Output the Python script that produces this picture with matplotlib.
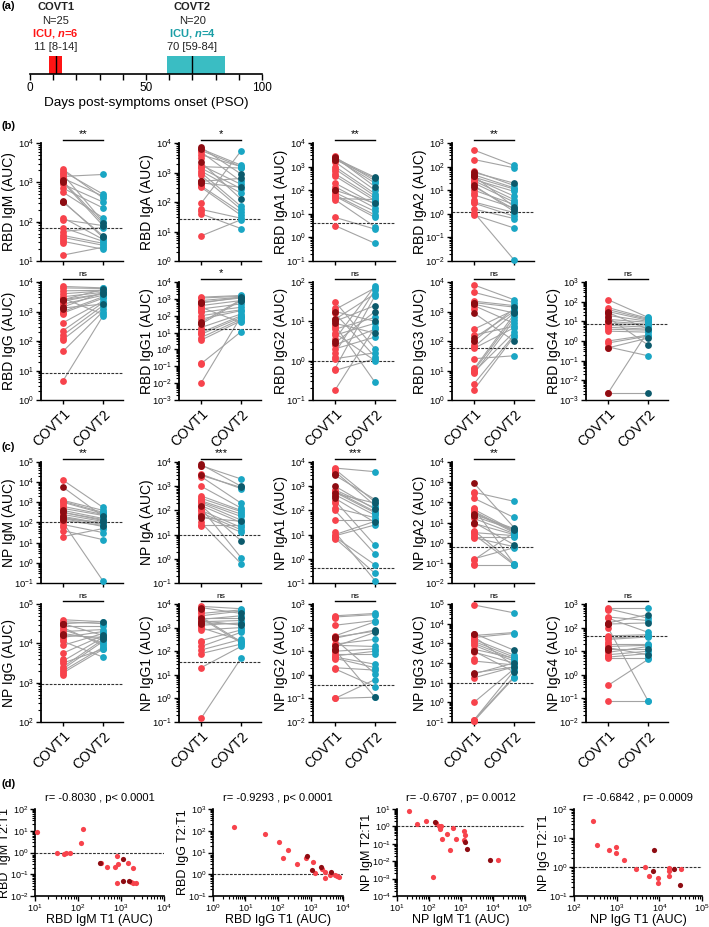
import matplotlib
matplotlib.use("Agg")
import matplotlib.pyplot as plt
import matplotlib.ticker as mticker
import numpy as np

plt.rcParams['font.family'] = 'Liberation Sans'
plt.rcParams['mathtext.fontset'] = 'custom'
plt.rcParams['mathtext.rm'] = 'Liberation Sans'
plt.rcParams['mathtext.it'] = 'Liberation Sans:italic:bold'
plt.rcParams['mathtext.bf'] = 'Liberation Sans:bold'

RED = '#f7434c'
DRED = '#8e0c12'
TEAL = '#1aa6c4'
DTEAL = '#0c5a6c'
GREY = '#a3a3a3'

# ---- panel (a): sampling windows (days PSO) ----
covt_names = ['COVT1', 'COVT2']
covt_n = ['N=25', 'N=20']
covt_icu = [r'ICU, $\it{n}$=6', r'ICU, $\it{n}$=4']
covt_median = [11, 70]
covt_lo = [8, 59]
covt_hi = [14, 84]

# ---- paired data, log10 AUC ----
# patient order: 0-3 ICU (paired), 4-19 non-ICU (paired), 20-21 ICU (T1 only), 22-24 non-ICU (T1 only)
ICU_T1 = [0, 1, 2, 3, 20, 21]
ICU_T2 = [0, 1, 2, 3]

rbd_igm_t1 = [3.03, 2.5, 2.52, 3.0, 3.33, 3.28, 3.2, 3.15, 3.1, 2.95, 2.85, 2.75, 2.1, 2.05, 1.85, 1.75, 1.65, 1.6, 1.5, 1.15, 3.05, 2.5, 1.55, 1.45, 3.25]
rbd_igm_t2 = [1.96, 1.64, 1.6, 1.9, 2.6, 2.7, 2.0, 3.2, 2.65, 2.5, 2.35, 2.1, 1.55, 1.9, 1.5, 1.85, 1.45, 1.4, 1.3, 1.35]
rbd_iga_t1 = [3.85, 3.35, 2.7, 2.65, 3.8, 3.75, 3.7, 3.6, 3.25, 3.2, 3.15, 3.05, 3.0, 2.9, 2.55, 2.5, 1.95, 1.75, 1.6, 0.85, 3.8, 2.7, 3.5, 2.6, 1.7]
rbd_iga_t2 = [2.95, 2.1, 2.8, 2.5, 3.25, 3.2, 2.7, 3.2, 2.6, 3.15, 2.45, 2.3, 1.85, 1.75, 1.65, 1.55, 3.73, 1.45, 1.1, 1.4]
rbd_iga1_t1 = [3.35, 3.3, 2.0, 3.4, 3.4, 3.35, 3.2, 3.0, 2.9, 2.7, 2.6, 2.3, 2.15, 1.9, 1.8, 1.75, 1.6, 0.85, 0.5, 1.65, 3.3, 2.0, 3.45, 2.8, 1.7]
rbd_iga1_t2 = [2.55, 2.5, 1.45, 2.15, 2.4, 2.3, 2.0, 1.85, 1.75, 1.65, 1.55, 1.4, 1.25, 1.1, 0.95, 0.85, 0.45, 0.35, -0.25, 1.6]
rbd_iga2_t1 = [1.75, 1.6, 1.2, 1.15, 2.7, 2.3, 1.8, 1.65, 1.55, 1.5, 1.4, 1.3, 1.0, 0.8, 0.5, 0.45, 0.2, 0.05, -0.05, 1.45, 1.7, 1.6, 1.35, 0.9, 0.6]
rbd_iga2_t2 = [1.3, 0.3, 0.1, 0.2, 2.05, 1.95, 1.2, 1.1, 1.05, 0.75, 0.6, 0.5, 0.4, 0.25, 0.05, -0.1, -0.2, -1.95, -0.6, 0.95]
rbd_igg_t1 = [3.4, 3.15, 3.12, 3.4, 3.85, 3.8, 3.7, 3.6, 3.5, 3.35, 3.25, 3.0, 2.95, 2.62, 2.35, 2.2, 2.05, 1.65, 0.65, 3.45, 3.38, 3.1, 3.3, 2.9, 2.1]
rbd_igg_t2 = [3.75, 3.65, 3.25, 3.6, 3.8, 3.78, 3.72, 3.7, 3.65, 3.6, 3.55, 3.5, 3.45, 3.35, 3.3, 3.2, 3.1, 3.0, 2.85, 2.9]
rbd_igg1_t1 = [2.8, 1.6, 1.5, 2.75, 3.1, 3.05, 2.9, 2.6, 2.4, 2.2, 2.0, 1.8, 1.3, 1.0, 0.9, 0.7, 0.55, -0.85, -2.0, 2.5, 2.75, 1.55, 2.3, 1.1, -0.8]
rbd_igg1_t2 = [3.05, 2.95, 2.9, 3.1, 3.2, 3.15, 3.1, 2.9, 2.7, 2.5, 2.35, 2.3, 2.1, 2.0, 1.9, 1.8, 1.7, 1.05, 1.95, 1.6]
rbd_igg2_t1 = [1.0, 0.45, 0.95, 1.25, 1.5, 1.3, 1.2, 1.05, 0.9, 0.8, 0.65, 0.55, 0.4, 0.3, 0.2, 0.05, -0.2, -0.25, -0.75, 0.7, 1.05, 0.5, 1.35, 0.85, 0.1]
rbd_igg2_t2 = [1.4, 1.25, 0.7, 1.0, 0.3, 1.85, 0.1, 1.7, -0.55, 1.1, 0.95, 1.9, 0.8, 0.6, 1.8, 0.2, 1.65, 0.05, 0.85, 0.0]
rbd_igg3_t1 = [3.3, 2.95, 2.1, 3.25, 3.9, 3.65, 3.35, 3.2, 2.4, 2.2, 1.8, 1.75, 1.4, 1.05, 1.0, 0.95, 0.9, 0.55, 0.35, 2.0, 3.3, 2.0, 3.1, 1.85, 1.1]
rbd_igg3_t2 = [3.15, 2.0, 3.0, 2.95, 3.4, 3.3, 3.2, 2.6, 3.05, 2.5, 2.95, 2.45, 1.5, 2.9, 2.8, 2.3, 2.7, 2.2, 2.15, 3.1]
rbd_igg4_t1 = [1.45, -0.35, 1.2, -2.65, 2.1, 1.7, 1.6, 1.5, 1.3, 1.1, 1.0, 0.9, 0.8, 0.7, 0.6, 0.5, 0.0, -0.1, -0.3, -2.65, 1.4, 1.0, 0.75, 1.55, -0.35]
rbd_igg4_t2 = [0.6, 0.15, -0.2, -2.65, 1.2, 1.15, 1.1, 1.05, 1.0, 0.95, 0.85, 0.8, 0.7, 0.6, 0.55, 0.45, 0.3, 0.25, -0.75, 0.5]

np_igm_t1 = [3.75, 2.1, 2.2, 2.5, 4.1, 3.1, 3.05, 3.0, 2.8, 2.7, 2.6, 2.5, 2.4, 2.3, 2.25, 2.2, 2.0, 1.9, 1.6, 1.3, 2.6, 2.3, 2.9, 1.8, 2.15]
np_igm_t2 = [2.3, 1.85, 2.0, 2.1, 2.75, 2.6, 2.5, 2.45, 2.4, 2.35, 2.2, 2.15, 2.05, 1.95, 1.9, 1.8, -0.9, 1.5, 1.15, 1.7]
np_iga_t1 = [3.9, 3.45, 1.7, 2.2, 3.85, 3.5, 3.4, 3.0, 2.6, 2.5, 2.4, 2.35, 2.3, 2.2, 2.1, 2.0, 1.9, 1.8, 1.5, 1.4, 3.85, 1.75, 2.45, 2.0, 1.35]
np_iga_t2 = [3.0, 2.95, 1.55, 0.75, 3.3, 2.9, 2.3, 2.1, 2.0, 1.95, 1.85, 1.75, 1.6, 1.5, 0.05, 1.3, 1.2, 1.1, -0.2, 1.4]
np_iga1_t1 = [3.45, 3.0, 2.5, 2.7, 3.75, 3.7, 3.6, 2.85, 2.8, 2.75, 2.65, 2.4, 2.1, 2.0, 1.6, 1.0, 0.95, 0.9, 0.85, 1.1, 3.5, 2.6, 3.65, 2.3, 0.8]
np_iga1_t2 = [2.45, 2.05, 1.5, 2.3, 3.6, 2.35, 2.2, 2.1, 1.95, 1.9, 1.8, 0.55, 1.7, 0.2, 1.6, 1.55, 1.4, -0.25, -0.6, -0.9]
np_iga2_t1 = [2.95, 1.4, 1.0, 1.3, 2.5, 2.2, 1.65, 1.55, 1.5, 1.2, 0.95, 0.6, 0.5, 0.4, 0.3, 0.25, -0.8, -1.1, -0.85, 1.7, 1.35, 1.0, 2.45, 0.55, -1.05]
np_iga2_t2 = [0.75, 0.7, -0.1, 0.65, 2.05, 1.25, 0.6, 0.55, 0.5, 0.45, 0.4, -1.05, 0.35, -1.1, 0.3, -0.2, -0.25, -1.1, 0.5, -1.05]
np_igg_t1 = [4.5, 4.2, 4.25, 4.5, 4.6, 4.55, 4.45, 4.35, 4.3, 4.15, 4.05, 3.95, 3.75, 3.55, 3.5, 3.4, 3.35, 3.3, 3.25, 4.4, 4.2, 4.5, 4.1, 3.6, 3.2]
np_igg_t2 = [4.55, 4.15, 4.1, 4.2, 4.55, 4.5, 4.45, 4.0, 4.35, 4.3, 3.65, 4.25, 4.2, 4.15, 3.85, 4.1, 4.05, 3.9, 3.85, 3.95]
np_igg1_t1 = [3.85, 3.2, 3.3, 3.4, 3.9, 3.6, 3.5, 3.45, 3.35, 3.25, 3.1, 3.0, 2.9, 2.45, 2.2, 2.05, 1.9, 1.3, -0.85, 3.4, 3.8, 3.15, 3.7, 2.4, 3.05]
np_igg1_t2 = [3.6, 3.15, 3.1, 3.4, 3.8, 3.75, 3.7, 2.4, 3.5, 3.3, 3.2, 2.45, 3.0, 2.9, 2.8, 2.5, 2.3, 2.2, 1.7, 2.35]
np_igg2_t1 = [1.6, 1.2, 1.05, 1.55, 2.5, 2.45, 2.1, 1.65, 1.3, 1.25, 1.0, 0.8, 0.75, 0.7, 0.3, 0.25, -1.0, -1.0, 1.5, 0.9, 1.6, 1.1, 2.4, 0.65, 1.0]
np_igg2_t2 = [1.85, 1.8, -0.95, 1.9, 2.6, 2.55, 2.3, 2.25, 1.5, 1.2, 1.1, 1.0, 0.45, 0.3, 0.2, -0.5, -0.95, -0.2, 0.05, 0.9]
np_igg3_t1 = [3.5, 2.6, 1.5, 1.45, 4.95, 3.4, 3.3, 3.2, 3.1, 3.0, 2.9, 2.55, 2.1, 1.25, 0.0, -0.9, -0.95, -0.9, 2.7, 3.35, 3.5, 2.6, 3.15, 2.2, -0.95]
np_igg3_t2 = [2.65, 1.55, 1.8, 2.0, 4.55, 3.55, 3.5, 2.4, 2.3, 2.2, 2.1, 2.0, 1.9, 1.8, 1.7, 1.6, 1.25, 1.3, 2.25, 1.85]
np_igg4_t1 = [2.2, 2.15, 1.1, 1.15, 2.85, 2.8, 2.45, 2.4, 1.65, 1.55, 1.5, 1.3, 1.2, 0.95, 0.85, 0.75, 0.7, -0.45, -1.1, 2.0, 2.15, 1.05, 2.75, 1.4, 0.8]
np_igg4_t2 = [2.55, 2.2, 1.1, 0.85, 2.85, 2.4, 2.3, 1.8, 1.7, 1.65, 1.6, 1.3, 1.25, 1.2, 1.0, 0.9, 0.7, 0.65, -1.1, -1.1]

b_labels = ['RBD IgM (AUC)', 'RBD IgA (AUC)', 'RBD IgA1 (AUC)', 'RBD IgA2 (AUC)',
            'RBD IgG (AUC)', 'RBD IgG1 (AUC)', 'RBD IgG2 (AUC)', 'RBD IgG3 (AUC)', 'RBD IgG4 (AUC)']
b_ylim = [(1, 4), (0, 4), (-1, 4), (-2, 3), (0, 4), (-3, 4), (-1, 2), (0, 4), (-3, 3)]
b_cutoff = [70, 26, 4, 1.2, 8.5, 16, 1.0, 56, 7.4]
b_sig = ['**', '*', '**', '**', 'ns', '*', 'ns', 'ns', 'ns']

c_labels = ['NP IgM (AUC)', 'NP IgA (AUC)', 'NP IgA1 (AUC)', 'NP IgA2 (AUC)',
            'NP IgG (AUC)', 'NP IgG1 (AUC)', 'NP IgG2 (AUC)', 'NP IgG3 (AUC)', 'NP IgG4 (AUC)']
c_ylim = [(-1, 5), (-1, 4), (-1, 4), (-2, 4), (2, 5), (-1, 4), (-2, 3), (-1, 5), (-2, 3)]
c_cutoff = [100, 10, 0.4, 0.6, 900, 35, 0.36, 10, 44]
c_sig = ['**', '***', '***', '**', 'ns', 'ns', 'ns', 'ns', 'ns']

b_t1 = [rbd_igm_t1, rbd_iga_t1, rbd_iga1_t1, rbd_iga2_t1, rbd_igg_t1, rbd_igg1_t1, rbd_igg2_t1, rbd_igg3_t1, rbd_igg4_t1]
b_t2 = [rbd_igm_t2, rbd_iga_t2, rbd_iga1_t2, rbd_iga2_t2, rbd_igg_t2, rbd_igg1_t2, rbd_igg2_t2, rbd_igg3_t2, rbd_igg4_t2]
c_t1 = [np_igm_t1, np_iga_t1, np_iga1_t1, np_iga2_t1, np_igg_t1, np_igg1_t1, np_igg2_t1, np_igg3_t1, np_igg4_t1]
c_t2 = [np_igm_t2, np_iga_t2, np_iga1_t2, np_iga2_t2, np_igg_t2, np_igg1_t2, np_igg2_t2, np_igg3_t2, np_igg4_t2]

# ---- panel (d): T1 vs T2:T1 ratio, log10 ----
d1_x = [1.05, 1.5, 1.67, 1.72, 1.81, 2.06, 2.12, 2.51, 2.53, 2.67, 2.86, 2.91, 2.94, 2.91, 3.04, 3.04, 3.17, 3.19, 3.23, 3.27, 3.29, 3.36]
d1_y = [0.94, 0.0, -0.09, 0.0, 0.0, 0.45, 1.1, -0.48, -0.5, -0.65, -0.65, -0.15, -0.53, -1.39, -0.3, -1.29, -0.5, -1.3, -1.36, -0.73, -1.42, -1.42]
d1_icu = [7, 14, 15, 17]
d2_x = [0.64, 1.59, 2.03, 2.31, 2.15, 2.59, 2.9, 2.87, 3.08, 3.06, 3.13, 3.31, 3.36, 3.44, 3.44, 3.64, 3.59, 3.74, 3.82, 3.88]
d2_y = [2.18, 1.83, 1.5, 1.12, 0.76, 0.47, 0.85, 0.73, 0.55, 0.21, 0.05, 0.32, 0.24, 0.09, -0.15, 0.09, -0.03, -0.02, -0.08, -0.12]
d2_icu = [6, 9, 11, 15]
d3_x = [1.36, 1.62, 1.91, 2.19, 2.23, 2.3, 2.37, 2.33, 2.4, 2.56, 2.66, 2.74, 2.85, 3.08, 3.13, 3.08, 3.13, 3.2, 2.12, 3.91, 4.17]
d3_y = [0.87, 0.11, 0.3, 0.24, 0.17, 0.02, 0.05, -0.14, -0.74, -0.46, -1.35, -0.08, -0.7, -0.27, -0.52, -0.78, -0.9, -1.31, -2.9, -1.92, -1.92]
d3_icu = [3, 16, 17, 19]
d4_x = [2.45, 2.55, 2.82, 2.98, 2.99, 3.18, 3.46, 3.67, 3.75, 3.88, 3.86, 3.96, 3.96, 4.22, 4.22, 4.22, 4.35, 4.51, 4.49]
d4_y = [1.57, 0.77, 0.58, 0.7, 0.47, 0.24, -0.06, -0.01, -0.3, 0.59, -0.14, -0.38, -0.55, -0.02, -0.13, -0.3, -0.07, -0.07, -0.61]
d4_icu = [9, 10, 16, 18]

d_titles = ['r= -0.8030 , p< 0.0001', 'r= -0.9293 , p< 0.0001', 'r= -0.6707 , p= 0.0012', 'r= -0.6842 , p= 0.0009']
d_xlabels = ['RBD IgM T1 (AUC)', 'RBD IgG T1 (AUC)', 'NP IgM T1 (AUC)', 'NP IgG T1 (AUC)']
d_ylabels = ['RBD  IgM T2:T1', 'RBD IgG T2:T1', 'NP IgM T2:T1', 'NP IgG T2:T1']
d_xlim = [(1, 4), (0, 4), (1, 5), (2, 5)]
d_ylim = [(-2, 2), (-1, 3), (-4, 1), (-1, 2)]

W, H = 709, 927
fig = plt.figure(figsize=(W / 100, H / 100), dpi=100)


def px_axes(left, top, width, height):
    return fig.add_axes([left / W, 1 - (top + height) / H, width / W, height / H])


def log_ticks(axis):
    axis.set_major_locator(mticker.LogLocator(base=10, numticks=20))
    axis.set_minor_locator(mticker.LogLocator(base=10, subs=np.arange(2, 10), numticks=20))
    axis.set_minor_formatter(mticker.NullFormatter())


def paired(ax, t1, t2, ylim, cut, sig, ylabel, xlabels):
    v1 = 10.0 ** np.array(t1)
    v2 = 10.0 ** np.array(t2)
    for i in range(len(v2)):
        ax.plot([0, 1], [v1[i], v2[i]], color=GREY, lw=0.8, zorder=1)
    light1 = [i for i in range(len(v1)) if i not in ICU_T1]
    light2 = [i for i in range(len(v2)) if i not in ICU_T2]
    ax.scatter(np.zeros(len(light1)), v1[light1], s=24, color=RED, lw=0, zorder=3, clip_on=False)
    ax.scatter(np.zeros(len(ICU_T1)), v1[ICU_T1], s=24, color=DRED, lw=0, zorder=4, clip_on=False)
    ax.scatter(np.ones(len(light2)), v2[light2], s=24, color=TEAL, lw=0, zorder=3, clip_on=False)
    ax.scatter(np.ones(len(ICU_T2)), v2[ICU_T2], s=24, color=DTEAL, lw=0, zorder=4, clip_on=False)
    ax.axhline(cut, color='#333333', ls=(0, (2.5, 1.2)), lw=0.8, zorder=2)
    ax.set_yscale('log')
    ax.set_ylim(10.0 ** ylim[0], 10.0 ** ylim[1])
    ax.set_xlim(-0.55, 1.5)
    log_ticks(ax.yaxis)
    ax.set_xticks([0, 1])
    if xlabels:
        ax.set_xticklabels(['COVT1', 'COVT2'], rotation=45, ha='right', rotation_mode='anchor', fontsize=10)
    else:
        ax.tick_params(axis='x', labelbottom=False)
    ax.tick_params(axis='y', which='major', labelsize=6.8, length=3.5, width=1, pad=1.5)
    ax.tick_params(axis='y', which='minor', length=2, width=0.8)
    ax.tick_params(axis='x', length=3, width=1, pad=2)
    for s in ['top', 'right']:
        ax.spines[s].set_visible(False)
    ax.spines['left'].set_linewidth(1.3)
    ax.spines['bottom'].set_linewidth(1.0)
    ax.set_ylabel(ylabel, fontsize=10)
    ax.yaxis.set_label_coords(-0.305, 0.5)
    tr = ax.get_xaxis_transform()
    ax.plot([0, 1], [1.025, 1.025], color='k', lw=1, transform=tr, clip_on=False)
    ax.text(0.5, 1.03, sig, transform=tr, ha='center', va='bottom',
            fontsize=6 if sig == 'ns' else 8)


# ---- (a) ----
ax = px_axes(30, 56, 232, 18)
for k in range(2):
    ax.bar((covt_lo[k] + covt_hi[k]) / 2, 1, width=covt_hi[k] - covt_lo[k], bottom=0,
           color=['#ff1414', '#3abdc3'][k], lw=0)
    ax.plot([covt_median[k]] * 2, [0, 1], color='k', lw=1)
    y_of = lambda ypx: (74 - ypx) / 18.0
    ax.text(covt_median[k], y_of(7), covt_names[k], ha='center', va='center', fontsize=8, fontweight='bold', color='#222222')
    ax.text(covt_median[k], y_of(21), covt_n[k], ha='center', va='center', fontsize=8, color='#222222')
    ax.text(covt_median[k], y_of(34), covt_icu[k], ha='center', va='center', fontsize=8, fontweight='bold',
            color=['#ff1414', '#1a9ea6'][k])
    ax.text(covt_median[k], y_of(47.5), '%d [%d-%d]' % (covt_median[k], covt_lo[k], covt_hi[k]),
            ha='center', va='center', fontsize=8, color='#222222')
ax.set_xlim(0, 100)
ax.set_ylim(0, 1)
ax.set_yticks([])
ax.set_xticks(range(0, 101, 10))
ax.set_xticklabels(['0', '', '', '', '', '50', '', '', '', '', '100'], fontsize=8.5)
ax.tick_params(axis='x', length=4.5, width=1, pad=1.5)
for s in ['top', 'right', 'left']:
    ax.spines[s].set_visible(False)
ax.spines['bottom'].set_linewidth(1.2)
ax.set_xlabel('Days post-symptoms onset (PSO)', fontsize=9.7, labelpad=2)

# ---- (b) and (c) ----
col_left = [41, 179, 313, 452, 586]
row_top = [143, 282, 462, 604]
row_h = [118, 118, 121, 118]
for g, (t1s, t2s, labs, lims, cuts, sigs) in enumerate([(b_t1, b_t2, b_labels, b_ylim, b_cutoff, b_sig),
                                                       (c_t1, c_t2, c_labels, c_ylim, c_cutoff, c_sig)]):
    for k in range(9):
        r = 2 * g + (0 if k < 4 else 1)
        c = k if k < 4 else k - 4
        ax = px_axes(col_left[c], row_top[r], 82, row_h[r])
        paired(ax, t1s[k], t2s[k], lims[k], cuts[k], sigs[k], labs[k], k >= 4)

# ---- (d) ----
d_left = [35, 213, 397, 574]
d_w = [129, 130, 128, 128]
d_x = [d1_x, d2_x, d3_x, d4_x]
d_y = [d1_y, d2_y, d3_y, d4_y]
d_icu = [d1_icu, d2_icu, d3_icu, d4_icu]
for k in range(4):
    ax = px_axes(d_left[k], 809, d_w[k], 87)
    xv = 10.0 ** np.array(d_x[k])
    yv = 10.0 ** np.array(d_y[k])
    light = [i for i in range(len(xv)) if i not in d_icu[k]]
    ax.scatter(xv[light], yv[light], s=14, color=RED, lw=0, zorder=3, clip_on=False)
    ax.scatter(xv[d_icu[k]], yv[d_icu[k]], s=14, color=DRED, lw=0, zorder=4, clip_on=False)
    ax.axhline(1, color='#333333', ls=(0, (2.5, 1.2)), lw=0.8, zorder=2)
    ax.set_xscale('log')
    ax.set_yscale('log')
    ax.set_xlim(10.0 ** d_xlim[k][0], 10.0 ** d_xlim[k][1])
    ax.set_ylim(10.0 ** d_ylim[k][0], 10.0 ** d_ylim[k][1])
    log_ticks(ax.xaxis)
    log_ticks(ax.yaxis)
    ax.tick_params(which='major', labelsize=6.5, length=3.5, width=1, pad=1)
    ax.tick_params(which='minor', length=2, width=0.8)
    for s in ['top', 'right']:
        ax.spines[s].set_visible(False)
    ax.spines['left'].set_linewidth(1.2)
    ax.spines['bottom'].set_linewidth(1.2)
    ax.set_title(d_titles[k], fontsize=8, pad=6)
    ax.set_xlabel(d_xlabels[k], fontsize=9, labelpad=0)
    ax.set_ylabel(d_ylabels[k], fontsize=9)
    ax.yaxis.set_label_coords(-24.0 / d_w[k], 0.5)

# panel letters
for lab, ypx in [('(a)', 6), ('(b)', 126), ('(c)', 447), ('(d)', 784)]:
    fig.text(2 / W, 1 - ypx / H, lab, fontsize=8, fontweight='bold', va='center', ha='left')

fig.savefig('out.png', dpi=100)
